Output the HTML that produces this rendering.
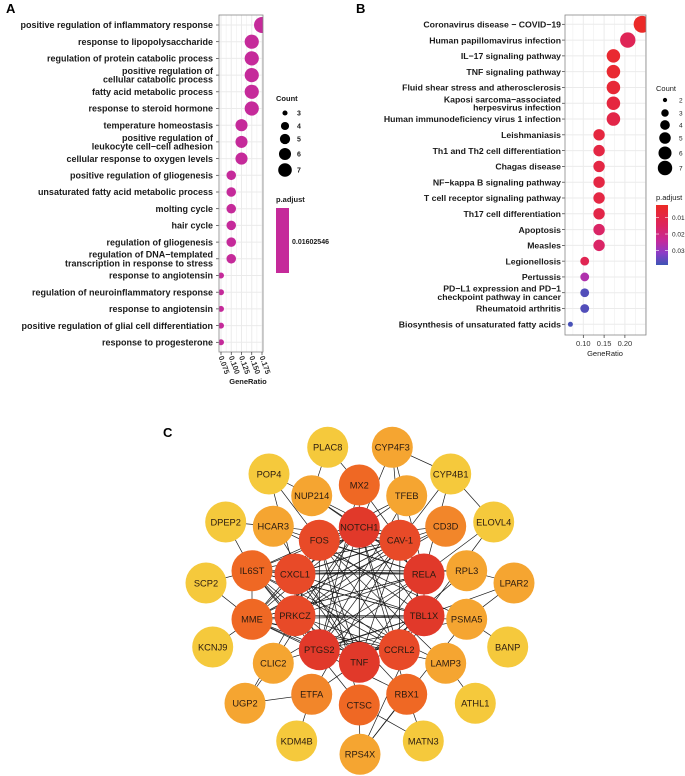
<!DOCTYPE html>
<html><head><meta charset="utf-8"><style>
body{margin:0;background:#fff}
svg{display:block;font-family:"Liberation Sans",Arial,sans-serif}
</style></head><body>
<svg id="fig" width="685" height="776" viewBox="0 0 685 776" xmlns="http://www.w3.org/2000/svg">
<defs>
<clipPath id="clipA"><rect x="219" y="15" width="44" height="337"/></clipPath>
<clipPath id="clipB"><rect x="565" y="15" width="81" height="320"/></clipPath>
<linearGradient id="gradB" x1="0" y1="0" x2="0" y2="1">
<stop offset="0" stop-color="#ec2a24"/><stop offset="0.35" stop-color="#dc2460"/><stop offset="0.6" stop-color="#c42a9c"/><stop offset="0.8" stop-color="#8c3cc8"/><stop offset="1" stop-color="#3d55b5"/>
</linearGradient>
</defs>
<text x="6" y="13" font-size="13" font-weight="bold">A</text>
<text x="356" y="13" font-size="13" font-weight="bold">B</text>
<text x="163" y="437" font-size="13" font-weight="bold">C</text>
<g id="gA"></g>
<g id="gB"></g>
<g id="gC"></g>
</svg>
<script>
const NS="http://www.w3.org/2000/svg";
function mk(p,t,a,txt){const e=document.createElementNS(NS,t);for(const k in a)e.setAttribute(k,a[k]);if(txt!==undefined)e.textContent=txt;p.appendChild(e);return e;}

// ---------- Panel A data ----------
const aTerms=["positive regulation of inflammatory response","response to lipopolysaccharide","regulation of protein catabolic process","positive regulation of\ncellular catabolic process","fatty acid metabolic process","response to steroid hormone","temperature homeostasis","positive regulation of\nleukocyte cell\u2212cell adhesion","cellular response to oxygen levels","positive regulation of gliogenesis","unsaturated fatty acid metabolic process","molting cycle","hair cycle","regulation of gliogenesis","regulation of DNA\u2212templated\ntranscription in response to stress","response to angiotensin","regulation of neuroinflammatory response","response to angiotensin","positive regulation of glial cell differentiation","response to progesterone"];
const aCounts=[7,6,6,6,6,6,5,5,5,4,4,4,4,4,4,3,3,3,3,3];
const aRatios=[0.175,0.15,0.15,0.15,0.15,0.15,0.125,0.125,0.125,0.1,0.1,0.1,0.1,0.1,0.1,0.075,0.075,0.075,0.075,0.075];
const aTicks=[0.075,0.1,0.125,0.15,0.175];
const aTickLabels=["0.075","0.100","0.125","0.150","0.175"];
const aLegendCounts=[3,4,5,6,7];

// ---------- Panel B data ----------
const bTerms=["Coronavirus disease \u2212 COVID\u221219","Human papillomavirus infection","IL\u221217 signaling pathway","TNF signaling pathway","Fluid shear stress and atherosclerosis","Kaposi sarcoma\u2212associated\nherpesvirus infection","Human immunodeficiency virus 1 infection","Leishmaniasis","Th1 and Th2 cell differentiation","Chagas disease","NF\u2212kappa B signaling pathway","T cell receptor signaling pathway","Th17 cell differentiation","Apoptosis","Measles","Legionellosis","Pertussis","PD\u2212L1 expression and PD\u22121\ncheckpoint pathway in cancer","Rheumatoid arthritis","Biosynthesis of unsaturated fatty acids"];
const bCounts=[7,6,5,5,5,5,5,4,4,4,4,4,4,4,4,3,3,3,3,2];
const bRatios=[0.2414,0.2069,0.1724,0.1724,0.1724,0.1724,0.1724,0.1379,0.1379,0.1379,0.1379,0.1379,0.1379,0.1379,0.1379,0.1034,0.1034,0.1034,0.1034,0.069];
const bPadj=[0.003,0.013,0.005,0.005,0.006,0.008,0.010,0.008,0.009,0.009,0.009,0.009,0.010,0.016,0.016,0.012,0.027,0.037,0.037,0.038];
const bTicks=[0.10,0.15,0.20];
const bTickLabels=["0.10","0.15","0.20"];
const bLegendCounts=[2,3,4,5,6,7];
const bPadjTicks=[0.01,0.02,0.03];

// ---------- Panel A ----------
(function(){
const g=document.getElementById('gA');
const X0=219,X1=263,Y0=15,Y1=352;
const xA=v=>221+(v-0.075)*410;
const yA=i=>25+i*16.7;
const rA=c=>Math.sqrt(9+13.75*(c-3));
mk(g,'rect',{x:X0,y:Y0,width:X1-X0,height:Y1-Y0,fill:'#fff'});
for(let v=0.0625;v<0.19;v+=0.0125){const x=xA(v);if(x>X0&&x<X1){const l=mk(g,'line',{x1:x,x2:x,y1:Y0,y2:Y1,stroke:'#ebebeb','stroke-width':Math.abs((v-0.075)/0.025-Math.round((v-0.075)/0.025))<0.01?1:0.5});}}
aTerms.forEach((t,i)=>{const l=mk(g,'line',{x1:X0,x2:X1,y1:yA(i),y2:yA(i),stroke:'#ebebeb','stroke-width':1});});
const pts=mk(g,'g',{'clip-path':'url(#clipA)'});
aTerms.forEach((t,i)=>{
 const c=mk(pts,'circle',{cx:xA(aRatios[i]),cy:yA(i),r:rA(aCounts[i]),fill:'#c52a9a'});
 
 
 const lines=t.split('\n');
 lines.forEach((ln,k)=>{const tx=mk(g,'text',{x:213,y:yA(i)+3.2+(k-(lines.length-1)/2)*8.6,'text-anchor':'end','font-size':9,'font-weight':'bold',fill:'#1a1a1a'},ln);
  });
 mk(g,'line',{x1:216,x2:X0,y1:yA(i),y2:yA(i),stroke:'#333','stroke-width':0.7});
});
mk(g,'rect',{x:X0,y:Y0,width:X1-X0,height:Y1-Y0,fill:'none',stroke:'#888','stroke-width':0.8});
aTicks.forEach((v,i)=>{const x=xA(v);mk(g,'line',{x1:x,x2:x,y1:Y1,y2:Y1+3,stroke:'#333','stroke-width':0.7});
 const t=mk(g,'text',{x:0,y:0,'font-size':7.5,'font-weight':'bold',fill:'#333',transform:`translate(${x-2.5},${Y1+5}) rotate(70)`},aTickLabels[i]);
 });
const xt=mk(g,'text',{x:248,y:384,'text-anchor':'middle','font-size':7.5,'font-weight':'bold',fill:'#1a1a1a'},'GeneRatio');

const lt=mk(g,'text',{x:276,y:101,'font-size':7.5,'font-weight':'bold',fill:'#1a1a1a'},'Count');

const ly=[113,126,139,154,170];
aLegendCounts.forEach((c,i)=>{const e=mk(g,'circle',{cx:285,cy:ly[i],r:rA(c)*0.85,fill:'#000'});
 mk(g,'text',{x:297,y:ly[i]+2.5,'font-size':7,'font-weight':'bold',fill:'#1a1a1a'},String(c));});
const pt=mk(g,'text',{x:276,y:202,'font-size':7.5,'font-weight':'bold',fill:'#1a1a1a'},'p.adjust');

const cb=mk(g,'rect',{x:276,y:208,width:13,height:65,fill:'#c52a9a'});
mk(g,'text',{x:292,y:244,'font-size':7,'font-weight':'bold',fill:'#1a1a1a'},'0.01602546');
})();

// ---------- Panel B ----------
(function(){
const g=document.getElementById('gB');
const X0=565,X1=646,Y0=15,Y1=335;
const xB=v=>583.3+(v-0.1)*416;
const yB=i=>24.3+i*15.79;
const rB=c=>Math.sqrt(6.25+13.15*(c-2));
const pMin=0.0022,pMax=0.039;
const stops=[[0,[236,42,36]],[0.35,[220,36,96]],[0.6,[196,42,156]],[0.8,[140,60,200]],[1,[61,85,181]]];
function col(p){let t=(p-pMin)/(pMax-pMin);t=Math.max(0,Math.min(1,t));for(let k=1;k<stops.length;k++){if(t<=stops[k][0]){const a=stops[k-1],b=stops[k];const f=(t-a[0])/(b[0]-a[0]);const c=a[1].map((v,j)=>Math.round(v+(b[1][j]-v)*f));return `rgb(${c})`;}}return 'rgb(61,85,181)';}
mk(g,'rect',{x:X0,y:Y0,width:X1-X0,height:Y1-Y0,fill:'#fff'});
for(let v=0.05;v<0.26;v+=0.025){const x=xB(v);if(x>X0&&x<X1){const major=Math.abs(v*20-Math.round(v*20))<0.01;const l=mk(g,'line',{x1:x,x2:x,y1:Y0,y2:Y1,stroke:'#ebebeb','stroke-width':major?1:0.5});}}
bTerms.forEach((t,i)=>{const l=mk(g,'line',{x1:X0,x2:X1,y1:yB(i),y2:yB(i),stroke:'#ebebeb','stroke-width':1});});
const pts=mk(g,'g',{'clip-path':'url(#clipB)'});
bTerms.forEach((t,i)=>{
 const c=mk(pts,'circle',{cx:xB(bRatios[i]),cy:yB(i),r:rB(bCounts[i]),fill:col(bPadj[i])});
 
 
 const lines=t.split('\n');
 lines.forEach((ln,k)=>{const tx=mk(g,'text',{x:561,y:yB(i)+3.2+(k-(lines.length-1)/2)*8.4,'text-anchor':'end','font-size':8.7,'font-weight':'bold',fill:'#1a1a1a'},ln);
  });
 mk(g,'line',{x1:562,x2:X0,y1:yB(i),y2:yB(i),stroke:'#333','stroke-width':0.7});
});
mk(g,'rect',{x:X0,y:Y0,width:X1-X0,height:Y1-Y0,fill:'none',stroke:'#888','stroke-width':0.8});
bTicks.forEach((v,i)=>{const x=xB(v);mk(g,'line',{x1:x,x2:x,y1:Y1,y2:Y1+3,stroke:'#333','stroke-width':0.7});
 const t=mk(g,'text',{x:x,y:Y1+11,'text-anchor':'middle','font-size':7.5,fill:'#333'},bTickLabels[i]);
 });
const xt=mk(g,'text',{x:605,y:356,'text-anchor':'middle','font-size':7.5,fill:'#1a1a1a'},'GeneRatio');

const lt=mk(g,'text',{x:656,y:91,'font-size':7.5,fill:'#1a1a1a'},'Count');

const ly=[100,113,125,138,153,168];
bLegendCounts.forEach((c,i)=>{const e=mk(g,'circle',{cx:665,cy:ly[i],r:rB(c)*0.85,fill:'#000'});
 mk(g,'text',{x:679,y:ly[i]+2.5,'font-size':6.5,fill:'#1a1a1a'},String(c));});
const pt=mk(g,'text',{x:656,y:200,'font-size':7.5,fill:'#1a1a1a'},'p.adjust');

const cb=mk(g,'rect',{x:656,y:205,width:12,height:60,fill:'url(#gradB)'});
const yP=p=>205+(p-pMin)/(pMax-pMin)*60;
bPadjTicks.forEach(p=>{mk(g,'line',{x1:656,x2:659,y1:yP(p),y2:yP(p),stroke:'#fff','stroke-width':0.6});mk(g,'line',{x1:665,x2:668,y1:yP(p),y2:yP(p),stroke:'#fff','stroke-width':0.6});
 mk(g,'text',{x:672,y:yP(p)+2.5,'font-size':6.5,fill:'#1a1a1a'},p.toFixed(2));});
})();

// ---------- Panel C network ----------
const nodeNames=["PLAC8","CYP4F3","POP4","CYP4B1","NUP214","MX2","TFEB","DPEP2","HCAR3","NOTCH1","FOS","CAV-1","CD3D","ELOVL4","IL6ST","CXCL1","RELA","RPL3","SCP2","LPAR2","MME","PRKCZ","TBL1X","PSMA5","KCNJ9","BANP","PTGS2","TNF","CCRL2","CLIC2","LAMP3","UGP2","ETFA","CTSC","RBX1","ATHL1","KDM4B","RPS4X","MATN3"];
const nodeLevel=[5,4,5,5,4,2,4,5,4,0,1,1,3,5,2,1,0,4,5,4,2,1,0,4,5,5,0,0,1,4,4,4,3,2,2,5,5,4,5];
const nodeLayout=[[327.7,447.3],[392.3,447.3],[269,474],[450.7,474],[311.7,495.7],[359.3,485],[406.7,495.7],[225.7,522],[273.3,526.3],[359.3,527.3],[319.3,540.3],[400,540.3],[445.7,526.3],[493.7,522],[252,570.7],[295,574],[424,574],[466.7,570.7],[206,583],[514,583],[252,619.3],[295,615.7],[424,615.7],[466.7,619.3],[212.7,647],[507.7,647],[319.3,649.7],[359.3,662.3],[399.3,649.7],[273.3,663.3],[445.7,663.3],[245,703.3],[311.7,694.3],[359.3,705],[406.7,694.3],[475.3,703.3],[296.7,741],[360,754.3],[423.3,741]];
const levelColors=["#e1392a","#e84a28","#ef6824","#f2862a","#f5a531","#f5c93c"];
const edgeList=[["PLAC8","NUP214"],["PLAC8","MX2"],["CYP4F3","CYP4B1"],["CYP4F3","CAV-1"],["CYP4F3","NOTCH1"],["CYP4F3","RELA"],["POP4","NUP214"],["POP4","FOS"],["POP4","CXCL1"],["CYP4B1","CAV-1"],["CYP4B1","RELA"],["CYP4B1","ELOVL4"],["DPEP2","HCAR3"],["DPEP2","IL6ST"],["ELOVL4","RELA"],["ELOVL4","TBL1X"],["SCP2","IL6ST"],["SCP2","MME"],["LPAR2","RPL3"],["LPAR2","PSMA5"],["LPAR2","TBL1X"],["KCNJ9","MME"],["BANP","PSMA5"],["ATHL1","LAMP3"],["UGP2","ETFA"],["UGP2","CLIC2"],["UGP2","PRKCZ"],["KDM4B","ETFA"],["RPS4X","CTSC"],["RPS4X","RBX1"],["RPS4X","TBL1X"],["RPS4X","PSMA5"],["MATN3","CTSC"],["MATN3","RBX1"],["NUP214","NOTCH1"],["NUP214","CAV-1"],["NUP214","RELA"],["TFEB","FOS"],["TFEB","CXCL1"],["TFEB","PTGS2"],["HCAR3","RELA"],["HCAR3","CAV-1"],["HCAR3","TNF"],["CD3D","FOS"],["CD3D","CXCL1"],["CD3D","PRKCZ"],["RPL3","CXCL1"],["RPL3","TNF"],["RPL3","IL6ST"],["PSMA5","PTGS2"],["PSMA5","PRKCZ"],["LAMP3","FOS"],["LAMP3","IL6ST"],["LAMP3","MME"],["CLIC2","RELA"],["CLIC2","TBL1X"],["CLIC2","NOTCH1"],["ETFA","TBL1X"],["ETFA","CAV-1"],["MX2","TNF"],["MX2","PTGS2"],["MX2","RELA"],["CTSC","FOS"],["CTSC","IL6ST"],["RBX1","CXCL1"],["RBX1","MME"],["RBX1","NOTCH1"],["IL6ST","TBL1X"],["MME","RELA"],["MME","CAV-1"],["CD3D","MME"],["HCAR3","PSMA5"]];
const coreNames=["NOTCH1","FOS","CAV-1","CXCL1","RELA","PRKCZ","TBL1X","PTGS2","TNF","CCRL2","IL6ST","MME"];
(function(){
const g=document.getElementById('gC');
const pos={};nodeNames.forEach((n,i)=>pos[n]=nodeLayout[i]);
const eg=mk(g,'g',{stroke:'#1a1a1a','stroke-width':0.7});
const edges=edgeList.slice();
for(let i=0;i<coreNames.length;i++)for(let j=i+1;j<coreNames.length;j++)edges.push([coreNames[i],coreNames[j]]);
edges.forEach(e=>{const a=pos[e[0]],b=pos[e[1]];const l=mk(eg,'line',{x1:a[0],y1:a[1],x2:b[0],y2:b[1]});
 
 });
nodeNames.forEach((n,i)=>{const ng=mk(g,'g',{});
 
 
 mk(ng,'circle',{cx:nodeLayout[i][0],cy:nodeLayout[i][1],r:20.5,fill:levelColors[nodeLevel[i]]});
 mk(ng,'text',{x:nodeLayout[i][0],y:nodeLayout[i][1]+3.3,'text-anchor':'middle','font-size':9.3,fill:'#2a1a10'},n);});
})();
</script>
</body></html>
